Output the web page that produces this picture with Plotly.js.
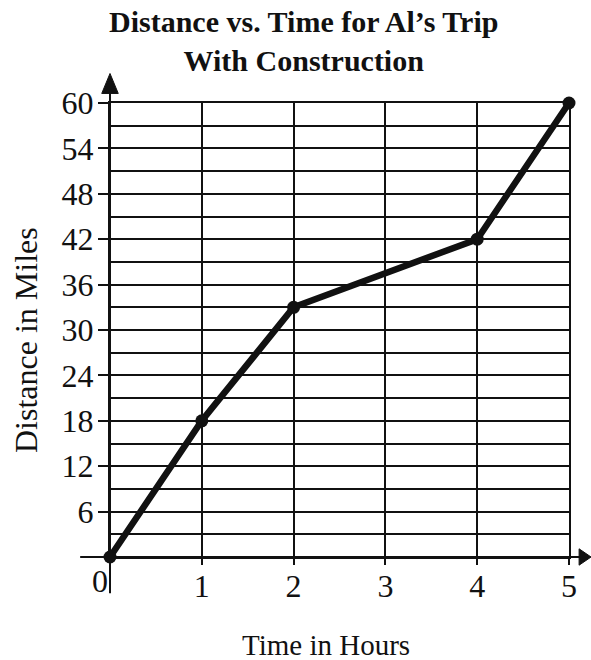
<!DOCTYPE html>
<html>
<head>
<meta charset="utf-8">
<script src="https://cdn.plot.ly/plotly-3.0.1.min.js"></script>
<style>html,body{margin:0;padding:0;background:#fff;}#chart{width:591px;height:660px;}</style>
</head>
<body>
<div id="chart"></div>
<script>
// Data
var hours = [0, 1, 2, 4, 5];
var miles = [0, 18, 33, 42, 60];
var xTickVals = [1, 2, 3, 4, 5];
var xTickText = ['1', '2', '3', '4', '5'];
var yTickVals = [6, 12, 18, 24, 30, 36, 42, 48, 54, 60];
var yTickText = ['6', '12', '18', '24', '30', '36', '42', '48', '54', '60'];

var serif = 'Liberation Serif, Times New Roman, serif';
var ink = '#111';

var trace = {
  x: hours, y: miles, type: 'scatter', mode: 'lines+markers',
  line: {color: ink, width: 6.5},
  marker: {color: ink, size: 13},
  cliponaxis: false, hoverinfo: 'skip', showlegend: false
};

var layout = {
  width: 591, height: 660,
  paper_bgcolor: '#fff', plot_bgcolor: '#fff',
  margin: {l: 110, r: 22, t: 103, b: 103},
  font: {family: serif, color: ink},
  xaxis: {
    range: [0, 5], tickvals: xTickVals, ticktext: xTickText,
    ticks: 'outside', ticklen: 6, tickwidth: 2, tickcolor: ink,
    ticklabelstandoff: -6,
    tickfont: {family: serif, size: 32, color: ink},
    showgrid: true, gridcolor: ink, gridwidth: 2,
    showline: true, linecolor: ink, linewidth: 2, mirror: true,
    zeroline: false, fixedrange: true
  },
  yaxis: {
    range: [0, 60], tickvals: yTickVals, ticktext: yTickText,
    ticks: 'outside', ticklen: 10, tickwidth: 2, tickcolor: ink,
    ticklabelstandoff: -2,
    tickfont: {family: serif, size: 32, color: ink},
    showgrid: true, gridcolor: ink, gridwidth: 2,
    minor: {dtick: 3, tick0: 0, showgrid: true, gridcolor: ink, gridwidth: 2, ticks: ''},
    showline: true, linecolor: ink, linewidth: 2, mirror: true,
    zeroline: false, fixedrange: true
  },
  shapes: [
    {type: 'line', xref: 'paper', yref: 'paper', x0: 0, x1: 0, y0: -0.08, y1: 1.03, line: {color: ink, width: 2}},
    {type: 'path', xref: 'paper', yref: 'paper', path: 'M -0.018,1.021 L 0.018,1.021 L 0,1.065 Z', fillcolor: ink, line: {color: ink, width: 1}},
    {type: 'line', xref: 'paper', yref: 'paper', x0: -0.065, x1: 1.03, y0: 0, y1: 0, line: {color: ink, width: 2}},
    {type: 'path', xref: 'paper', yref: 'paper', path: 'M 1.022,-0.018 L 1.022,0.018 L 1.048,0 Z', fillcolor: ink, line: {color: ink, width: 1}}
  ],
  annotations: [
    {text: '<b>Distance vs. Time for Al’s Trip<br>With Construction</b>', xref: 'paper', yref: 'paper',
     x: 0.4205, y: 1.136, xanchor: 'center', yanchor: 'middle', showarrow: false,
     font: {family: serif, size: 30, color: ink}},
    {text: '0', xref: 'paper', yref: 'paper', x: -0.0218, y: -0.053, xanchor: 'center', yanchor: 'middle',
     showarrow: false, font: {family: serif, size: 32, color: ink}},
    {text: 'Distance in Miles', xref: 'paper', yref: 'paper', x: -0.183, y: 0.478, xanchor: 'center', yanchor: 'middle',
     textangle: -90, showarrow: false, font: {family: serif, size: 32, color: ink}},
    {text: 'Time in Hours', xref: 'paper', yref: 'paper', x: 0.4706, y: -0.194, xanchor: 'center', yanchor: 'middle',
     showarrow: false, font: {family: serif, size: 29, color: ink}}
  ]
};

Plotly.newPlot('chart', [trace], layout, {displayModeBar: false, staticPlot: true});
</script>
</body>
</html>
